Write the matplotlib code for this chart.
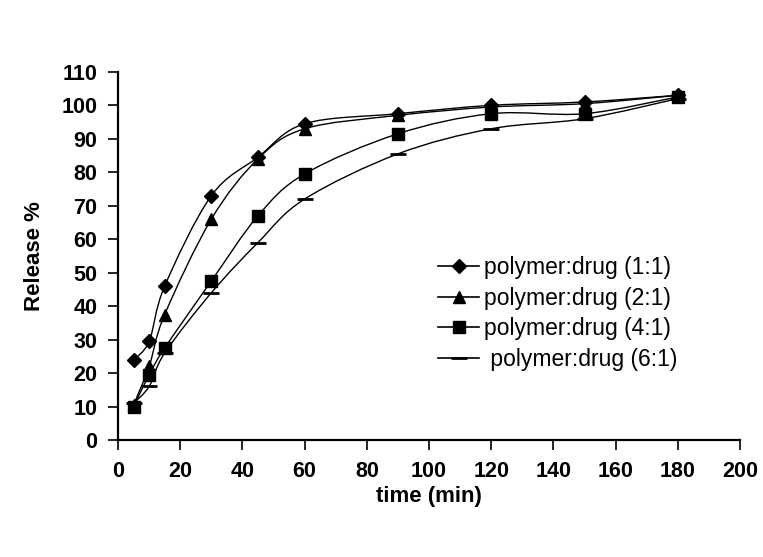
import matplotlib.pyplot as plt
import numpy as np
from matplotlib.path import Path
from matplotlib.patches import PathPatch
from matplotlib.lines import Line2D

plt.rcParams['font.family'] = ['Liberation Sans', 'DejaVu Sans']

time_min = [5, 10, 15, 30, 45, 60, 90, 120, 150, 180]
release_1_1 = [24, 29.5, 46, 73, 84.5, 94.5, 97.5, 100, 101, 103]
release_2_1 = [10.5, 22, 37.5, 66, 84, 93, 97, 99.5, 100.5, 103]
release_4_1 = [10, 19.5, 27.5, 47.5, 67, 79.5, 91.5, 97.5, 97.5, 102.5]
release_6_1 = [11, 16, 26, 44, 59, 72, 85.5, 93, 96, 102]

labels = ["polymer:drug (1:1)", "polymer:drug (2:1)",
          "polymer:drug (4:1)", " polymer:drug (6:1)"]
markers = ['D', '^', 's', '_']
msizes = [7, 8, 9, 11]


def _smooth_path(x, y):
    """excel style smoothed line: catmull-rom segments as cubic beziers"""
    pts = np.column_stack([x, y]).astype(float)
    n = len(pts)
    verts = [pts[0]]
    codes = [Path.MOVETO]
    for i in range(n - 1):
        p0 = pts[i - 1] if i > 0 else pts[i]
        p1 = pts[i]
        p2 = pts[i + 1]
        p3 = pts[i + 2] if i + 2 < n else pts[i + 1]
        c1 = p1 + (p2 - p0) / 6.0
        c2 = p2 - (p3 - p1) / 6.0
        verts += [c1, c2, p2]
        codes += [Path.CURVE4] * 3
    return Path(verts, codes)


fig = plt.figure(figsize=(7.63, 5.57), dpi=100)
ax = fig.add_axes([0.1547, 0.21, 0.8152, 0.661])

series = [release_1_1, release_2_1, release_4_1, release_6_1]
handles = []
for vals, m, ms, lab in zip(series, markers, msizes, labels):
    patch = PathPatch(_smooth_path(time_min, vals), fill=False,
                      edgecolor='black', lw=1.0)
    ax.add_patch(patch)
    ax.plot(time_min, vals, linestyle='none', marker=m, markersize=ms,
            color='black', mew=2 if m == '_' else 1)
    handles.append(Line2D([], [], color='black', lw=1.2, marker=m,
                          markersize=ms, mew=2 if m == '_' else 1, label=lab))

ax.set_xlim(0, 200)
ax.set_ylim(0, 110)
ax.set_xticks(range(0, 201, 20))
ax.set_yticks(range(0, 111, 10))

for s in ['top', 'right']:
    ax.spines[s].set_visible(False)
for s in ['left', 'bottom']:
    ax.spines[s].set_linewidth(1.6)

ax.tick_params(direction='out', length=7, width=1.2, labelsize=15.5, pad=8)
for t in ax.get_xticklabels() + ax.get_yticklabels():
    t.set_fontweight('bold')

ax.set_xlabel("time (min)", fontsize=16, fontweight='bold', labelpad=3)
ax.set_ylabel("Release %", fontsize=16, fontweight='bold', labelpad=12)

ax.legend(handles=handles, loc='upper left', frameon=False,
          bbox_to_anchor=(0.559, 0.561), bbox_transform=fig.transFigure,
          fontsize=16.5, handlelength=1.8, handletextpad=0.2,
          labelspacing=0.33, borderpad=0)

fig.savefig('out.png', dpi=100)
